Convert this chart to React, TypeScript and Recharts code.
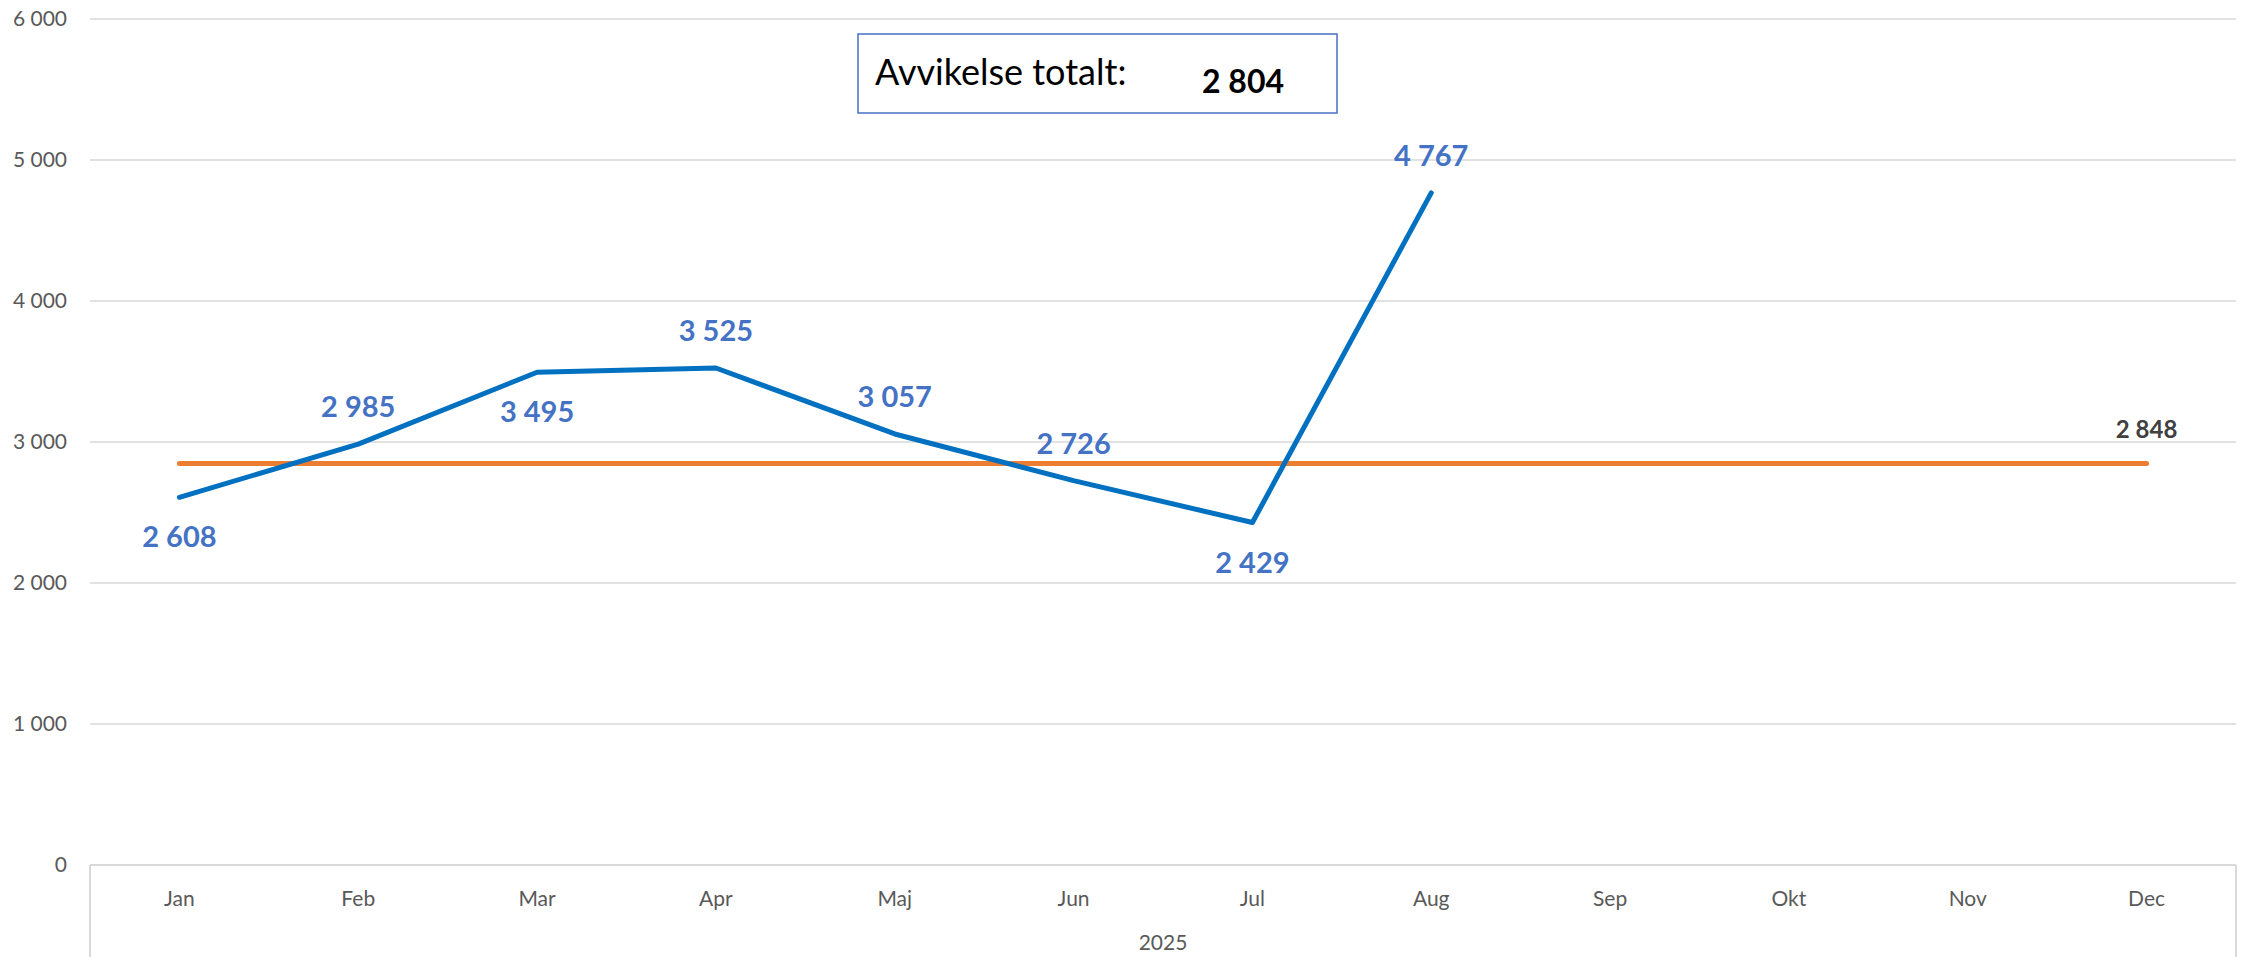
import React from 'react';
import { LineChart, Line, XAxis, YAxis, CartesianGrid, LabelList } from 'recharts';

const months = ['Jan', 'Feb', 'Mar', 'Apr', 'Maj', 'Jun', 'Jul', 'Aug', 'Sep', 'Okt', 'Nov', 'Dec'];
const actual = [2608, 2985, 3495, 3525, 3057, 2726, 2429, 4767, null, null, null, null];
const average = [2848, 2848, 2848, 2848, 2848, 2848, 2848, 2848, 2848, 2848, 2848, 2848];
const yTicks = [0, 1000, 2000, 3000, 4000, 5000, 6000];
const yearLabel = '2025';
const totalLabel = 'Avvikelse totalt:';
const totalValue = 2804;

const data = months.map((m, i) => ({ month: m, actual: actual[i], average: average[i] }));

// Excel put these labels under the point
const labelsBelow = ['Jan', 'Mar', 'Jul'];

const W = 2249;
const H = 957;
const FONT = 'Lato, "Open Sans", sans-serif';
const X_AXIS_H = 92;
const TICK_MARGIN = 26;

const fmt = (v: number) => String(v).replace(/\B(?=(\d{3})+(?!\d))/g, ' ');

const MonthTick = (props: any) => {
  const { x, y, payload, index } = props;
  const half = payload && payload.offset ? payload.offset : 89.4;
  const axisY = y - TICK_MARGIN;
  return (
    <g>
      <text x={x} y={y} dy="0.71em" textAnchor="middle" fill="#595959" fontSize={21} fontFamily={FONT}>
        {payload.value}
      </text>
      {index === 0 && (
        <line x1={x - half} x2={x - half} y1={axisY} y2={axisY + X_AXIS_H} stroke="#d9d9d9" strokeWidth={2} />
      )}
      {index === months.length - 1 && (
        <line x1={x + half} x2={x + half} y1={axisY} y2={axisY + X_AXIS_H} stroke="#d9d9d9" strokeWidth={2} />
      )}
    </g>
  );
};

const BlueLabel = (props: any) => {
  const { x, y, value, index } = props;
  if (value == null) return null;
  const below = labelsBelow.includes(months[index]);
  return (
    <text
      x={x}
      y={below ? y + 50 : y - 27}
      textAnchor="middle"
      fill="#4472C4"
      fontSize={29}
      fontWeight="bold"
      fontFamily={FONT}
    >
      {fmt(value)}
    </text>
  );
};

const OrangeLabel = (props: any) => {
  const { x, y, value, index } = props;
  if (index !== months.length - 1) return null;
  return (
    <text x={x} y={y - 25} textAnchor="middle" fill="#404040" fontSize={24} fontWeight="bold" fontFamily={FONT}>
      {fmt(value)}
    </text>
  );
};

export default function App() {
  return (
    <div style={{ position: 'absolute', left: 0, top: 0, width: W, height: H, background: '#fff', fontFamily: FONT }}>
      <LineChart width={W} height={H} data={data} margin={{ top: 19, right: 13, bottom: 0, left: 0 }}>
        <CartesianGrid vertical={false} stroke="#d9d9d9" strokeWidth={1.5} />
        <XAxis
          dataKey="month"
          scale="band"
          height={X_AXIS_H}
          tickLine={false}
          tickSize={0}
          tickMargin={TICK_MARGIN}
          axisLine={{ stroke: '#d9d9d9', strokeWidth: 2 }}
          tick={<MonthTick />}
          interval={0}
          label={{ value: yearLabel, position: 'insideBottom', offset: 7, fill: '#595959', fontSize: 21, fontFamily: FONT }}
        />
        <YAxis
          width={90}
          domain={[0, 6000]}
          ticks={yTicks}
          tickFormatter={fmt}
          axisLine={false}
          tickLine={false}
          tickSize={0}
          tickMargin={23}
          tick={{ fill: '#595959', fontSize: 21, fontFamily: FONT }}
        />
        <Line
          dataKey="average"
          stroke="#ED7D31"
          strokeWidth={5}
          strokeLinecap="round"
          dot={false}
          activeDot={false}
          isAnimationActive={false}
        >
          <LabelList dataKey="average" content={<OrangeLabel />} />
        </Line>
        <Line
          dataKey="actual"
          stroke="#0070C0"
          strokeWidth={5}
          strokeLinecap="round"
          strokeLinejoin="round"
          dot={false}
          activeDot={false}
          isAnimationActive={false}
        >
          <LabelList dataKey="actual" content={<BlueLabel />} />
        </Line>
      </LineChart>
      <svg style={{ position: 'absolute', left: 0, top: 0, pointerEvents: 'none' }} width={W} height={H}>
        <rect x={858} y={34} width={479} height={79} fill="#fff" stroke="#4472C4" strokeWidth={1.5} />
        <text x={875} y={85} fontSize={36} fill="#000" fontFamily={FONT}>
          {totalLabel}
        </text>
        <text x={1202} y={93} fontSize={32} fontWeight="bold" fill="#000" fontFamily={FONT}>
          {fmt(totalValue)}
        </text>
      </svg>
    </div>
  );
}
